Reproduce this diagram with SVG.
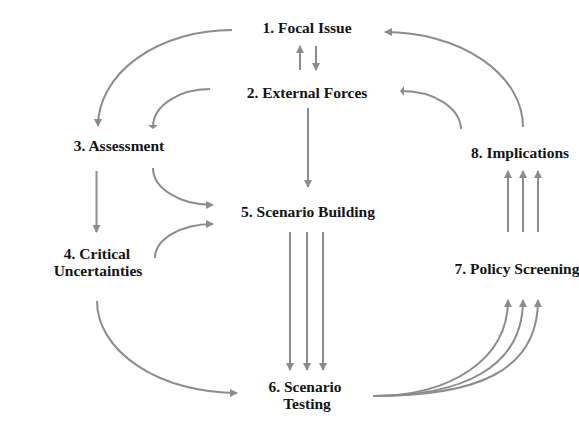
<svg xmlns="http://www.w3.org/2000/svg" width="579" height="421" viewBox="0 0 579 421">
  <style>
    .label { font-family: "Liberation Serif", "Times New Roman", serif; font-weight: bold; font-size: 15.5px; fill: #141414; text-anchor: middle; }
    .link { fill: none; stroke: #8c8c8c; stroke-width: 2; }
    .arrow { marker-end: url(#head); }
    .flat { marker-end: url(#tee); }
  </style>
  <defs>
    <marker id="head" viewBox="0 0 8 8" refX="7" refY="4" markerWidth="8" markerHeight="8" markerUnits="userSpaceOnUse" orient="auto">
      <path d="M0,0 L8,4 L0,8 z" fill="#8c8c8c"/>
    </marker>
    <marker id="tee" viewBox="0 0 4 10" refX="2" refY="5" markerWidth="4" markerHeight="10" markerUnits="userSpaceOnUse" orient="auto">
      <path d="M0,0 L4,5 L0,10 z" fill="#8c8c8c"/>
    </marker>
  </defs>

  <rect width="579" height="421" fill="#ffffff"/>

  <g id="connectors">
    <!-- 1 <-> 2 -->
    <path class="link arrow" d="M300,70 L300,46"/>
    <path class="link arrow" d="M316,46 L316,70"/>
    <!-- 1 -> 3 -->
    <path class="link arrow" d="M232,30 A134,96 0 0 0 98,126"/>
    <!-- 2 -> 3 -->
    <path class="link flat" d="M210,89 A57,38 0 0 0 153,127"/>
    <!-- 2 -> 5 -->
    <path class="link arrow" d="M308,108 L308,187"/>
    <!-- 3 -> 4 -->
    <path class="link arrow" d="M96.5,171 L96.5,232"/>
    <!-- 3 -> 5 -->
    <path class="link arrow" d="M153,168 A60,37 0 0 0 213,205"/>
    <!-- 4 -> 5 -->
    <path class="link arrow" d="M155,258 A58,34 0 0 1 213,224"/>
    <!-- 4 -> 6 -->
    <path class="link arrow" d="M97,301 A140,92 0 0 0 237,393"/>
    <!-- 5 -> 6 -->
    <path class="link arrow" d="M290,232 L290,370"/>
    <path class="link arrow" d="M307,232 L307,370"/>
    <path class="link arrow" d="M323,232 L323,370"/>
    <!-- 6 -> 7 -->
    <path class="link arrow" d="M373,396 C450,396 508,360 508,300"/>
    <path class="link arrow" d="M373,396 C462,396 523,368 523,300"/>
    <path class="link arrow" d="M373,396 C472,396 538,374 538,300"/>
    <!-- 7 -> 8 -->
    <path class="link arrow" d="M508,232 L508,171"/>
    <path class="link arrow" d="M523,232 L523,171"/>
    <path class="link arrow" d="M538,232 L538,171"/>
    <!-- 8 -> 2 -->
    <path class="link flat" d="M461,129 A59,39 0 0 0 402,91"/>
    <!-- 8 -> 1 -->
    <path class="link arrow" d="M523,127 A138,95 0 0 0 385,32"/>
  </g>

  <g id="node1"><text class="label" x="307" y="33">1. Focal Issue</text></g>
  <g id="node2"><text class="label" x="307" y="98">2. External Forces</text></g>
  <g id="node3"><text class="label" x="119" y="151">3. Assessment</text></g>
  <g id="node4">
    <text class="label" x="97" y="259">4. Critical</text>
    <text class="label" x="98" y="276">Uncertainties</text>
  </g>
  <g id="node5"><text class="label" x="308" y="217">5. Scenario Building</text></g>
  <g id="node6">
    <text class="label" x="305" y="392">6. Scenario</text>
    <text class="label" x="307" y="409">Testing</text>
  </g>
  <g id="node7"><text class="label" x="517" y="274">7. Policy Screening</text></g>
  <g id="node8"><text class="label" x="520" y="158">8. Implications</text></g>
</svg>
